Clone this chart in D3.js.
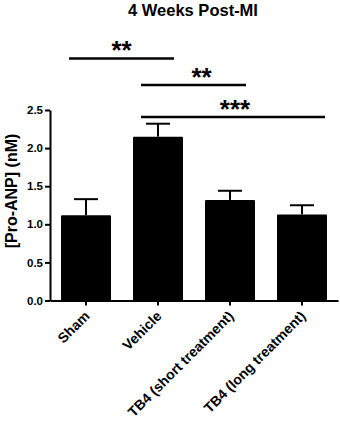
<!DOCTYPE html>
<html>
<head>
<meta charset="utf-8">
<script src="https://cdn.jsdelivr.net/npm/d3@7"></script>
<style>
  html, body { margin: 0; padding: 0; background: #fff; }
  svg { display: block; }
  text { font-family: "Liberation Sans", Arial, sans-serif; font-weight: bold; fill: #000; }
</style>
</head>
<body>
<svg id="chart" width="340" height="422"></svg>
<script>
const categories = ["Sham", "Vehicle", "TB4 (short treatment)", "TB4 (long treatment)"];
const means = [1.12, 2.15, 1.32, 1.13];
const errors = [0.21, 0.17, 0.12, 0.12];
const yTicks = [0.0, 0.5, 1.0, 1.5, 2.0, 2.5];
const title = "4 Weeks Post-MI";
const yTitle = "[Pro-ANP] (nM)";
// significance brackets
const sigFrom = ["Sham", "Vehicle", "Vehicle"];
const sigTo = ["Vehicle", "TB4 (short treatment)", "TB4 (long treatment)"];
const sigLabels = ["**", "**", "***"];

const svg = d3.select("#chart");
const x = d3.scaleBand().domain(categories).range([50, 338]).paddingInner(0.3056).paddingOuter(0.153);
const y = d3.scaleLinear().domain([0, 2.5]).range([300.5, 110]);

// title
svg.append("text").attr("x", 193).attr("y", 15.5).attr("text-anchor", "middle")
  .style("font-size", "16.5px").text(title);

// bars
svg.append("g").selectAll("rect").data(categories).join("rect")
  .attr("x", d => x(d)).attr("width", x.bandwidth())
  .attr("y", (d, i) => y(means[i])).attr("height", (d, i) => y(0) - y(means[i]))
  .attr("fill", "#000").attr("rx", 1);

// error bars
const eg = svg.append("g").attr("stroke", "#000").attr("stroke-width", 2);
categories.forEach((c, i) => {
  const cx = x(c) + x.bandwidth() / 2;
  eg.append("line").attr("x1", cx).attr("x2", cx).attr("y1", y(means[i])).attr("y2", y(means[i] + errors[i]));
  eg.append("line").attr("x1", cx - 12).attr("x2", cx + 12).attr("y1", y(means[i] + errors[i])).attr("y2", y(means[i] + errors[i]));
});

// y axis
const yAxis = svg.append("g").attr("transform", "translate(50,0)")
  .call(d3.axisLeft(y).tickValues(yTicks).tickFormat(d3.format(".1f")).tickSize(5).tickSizeOuter(0).tickPadding(2));
yAxis.select(".domain").attr("stroke-width", 2);
yAxis.selectAll(".tick line").attr("stroke-width", 2);
yAxis.selectAll("text").style("font-size", "11.5px").style("font-family", "Liberation Sans, Arial, sans-serif").style("font-weight", "bold");

// x axis
const xAxis = svg.append("g").attr("transform", "translate(0,300.5)")
  .call(d3.axisBottom(x).tickSize(5).tickSizeOuter(0).tickPadding(4));
xAxis.select(".domain").attr("stroke-width", 2);
xAxis.selectAll(".tick line").attr("stroke-width", 2);
xAxis.selectAll("text")
  .style("font-size", "14px").style("font-family", "Liberation Sans, Arial, sans-serif").style("font-weight", "bold")
  .attr("text-anchor", "end").attr("dy", "0.35em")
  .attr("transform", "translate(1,13) rotate(-45)").attr("y", 0).attr("x", 0);

// y title
svg.append("text").attr("transform", "translate(17,191) rotate(-90)").attr("text-anchor", "middle")
  .style("font-size", "16px").text(yTitle);

// significance brackets
const sigY = [58.5, 85, 117];
const sg = svg.append("g");
sigLabels.forEach((lab, i) => {
  const x1 = x(sigFrom[i]) + x.bandwidth() / 2 - 17;
  const x2 = x(sigTo[i]) + x.bandwidth() / 2 + (i === 2 ? 23 : 16);
  sg.append("line").attr("x1", x1).attr("x2", x2).attr("y1", sigY[i]).attr("y2", sigY[i])
    .attr("stroke", "#000").attr("stroke-width", 2.5);
  const xm = i === 0 ? (x1 + x2) / 2 : (i === 1 ? (x1 + x2) / 2 + 8 : (x1 + x2) / 2 + 2);
  sg.append("text").attr("x", xm).attr("y", sigY[i] + 0.5).attr("text-anchor", "middle")
    .style("font-size", "26px").text(lab);
});
</script>
</body>
</html>
